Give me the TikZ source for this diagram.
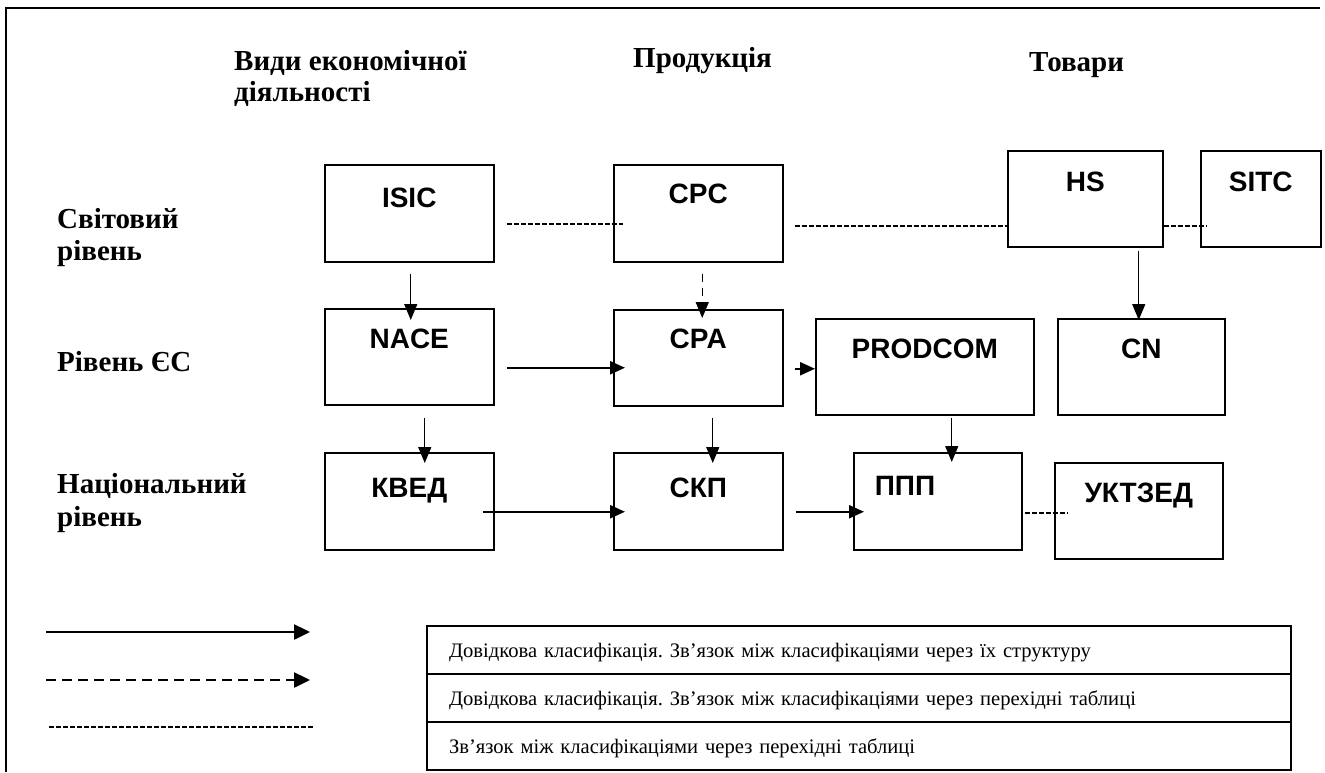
\documentclass[tikz,border=0pt]{standalone}
\usepackage{fontspec}
\setmainfont{Liberation Serif}
\newfontfamily\boxfont{Liberation Sans}
\usetikzlibrary{arrows.meta}
\frenchspacing
\begin{document}
\begin{tikzpicture}[x=1pt,y=-1pt,
  cbox/.style={draw, line width=1.5pt, rectangle, inner sep=0pt, anchor=north west,
    font=\boxfont\bfseries\fontsize{28}{28}\selectfont},
  hdr/.style={anchor=base west, inner sep=0pt, font=\bfseries\fontsize{29}{31}\selectfont},
  arr/.style={line width=1.4pt, -{Triangle[length=16pt,width=13pt]}},
  thickarr/.style={line width=2.4pt, -{Triangle[length=15pt,width=13pt]}},
  dasharr/.style={line width=1.4pt, dash pattern=on 8pt off 6pt, -{Triangle[length=16pt,width=13pt]}},
  thin dash/.style={line width=1.5pt, dash pattern=on 5pt off 2pt},
  legrow/.style={draw, line width=2pt, rectangle, anchor=north west, inner xsep=22pt, inner ysep=0pt,
    minimum width=864pt, minimum height=48pt, text width=820pt, align=left,
    text height=18pt, text depth=4pt, font=\fontsize{20.6}{22}\selectfont}
]
\useasboundingbox (0,0) rectangle (1325,772);
% frame
\draw[line width=2pt] (1320,8) -- (6,8) -- (6,772);

% headers
\node[hdr] (h1a) at (234,70) {Види економічної};
\node[hdr] (h1b) at (234,101) {діяльності};
\node[hdr] (h2) at (633,67) {Продукція};
\node[hdr] (h3) at (1029,71) {Товари};

% row labels
\node[hdr] (r1a) at (57,228) {Світовий};
\node[hdr] (r1b) at (57,260) {рівень};
\node[hdr] (r2) at (57,371) {Рівень ЄС};
\node[hdr] (r3a) at (57,493) {Національний};
\node[hdr] (r3b) at (57,526) {рівень};

% boxes
\node[cbox, minimum width=169pt, minimum height=97pt, text height=43pt, text depth=54pt] (isic) at (324,164) {ISIC};
\node[cbox, minimum width=169pt, minimum height=97pt, text height=39pt, text depth=58pt] (cpc) at (613,164) {CPC};
\node[cbox, minimum width=155pt, minimum height=96pt, text height=41pt, text depth=55pt] (hs) at (1007,150) {HS};
\node[cbox, minimum width=120pt, minimum height=96pt, text height=41pt, text depth=55pt] (sitc) at (1200,150) {SITC};
\node[cbox, minimum width=169pt, minimum height=96pt, text height=40pt, text depth=56pt] (nace) at (324,308) {NACE};
\node[cbox, minimum width=169pt, minimum height=96pt, text height=39pt, text depth=57pt] (cpa) at (613,309) {CPA};
\node[cbox, minimum width=218pt, minimum height=96pt, text height=40pt, text depth=56pt] (prodcom) at (815,318) {PRODCOM};
\node[cbox, minimum width=167pt, minimum height=96pt, text height=40pt, text depth=56pt] (cn) at (1057,318) {CN};
\node[cbox, minimum width=169pt, minimum height=97pt, text height=45pt, text depth=52pt] (kved) at (324,452) {КВЕД};
\node[cbox, minimum width=169pt, minimum height=97pt, text height=45pt, text depth=52pt] (skp) at (613,452) {СКП};
\node[cbox, minimum width=168pt, minimum height=97pt, text height=43pt, text depth=54pt,
      inner xsep=21pt, text width=126pt, align=left] (ppp) at (853,452) {ППП};
\node[cbox, minimum width=168pt, minimum height=96pt, text height=40pt, text depth=56pt] (ukt) at (1054,462) {УКТЗЕД};

% connectors
\draw[arr] ([xshift=1.5pt,yshift=-11pt]isic.south) -- ([xshift=1.5pt,yshift=-12pt]nace.north);
\draw[dasharr] ([xshift=4pt,yshift=-11pt]cpc.south) -- ([xshift=4pt,yshift=-9pt]cpa.north);
\draw[thin dash] ([xshift=12pt,yshift=-10.5pt]isic.east) -- ([xshift=10pt,yshift=-10.5pt]cpc.west);
\draw[thin dash] ([xshift=11pt,yshift=-12.5pt]cpc.east) -- ([xshift=2pt,yshift=-27pt]hs.west);
\draw[thin dash] ([yshift=-27pt]hs.east) -- ([xshift=7pt,yshift=-27pt]sitc.west);
\draw[arr] ([xshift=53.5pt,yshift=-3pt]hs.south) -- ([xshift=-2.5pt,yshift=-2pt]cn.north);
\draw[thickarr] ([xshift=12pt,yshift=-11pt]nace.east) -- ([xshift=12pt,yshift=-10pt]cpa.west);
\draw[thickarr] ([xshift=11pt,yshift=-11pt]cpa.east) -- ([yshift=-2pt]prodcom.west);
\draw[arr] ([xshift=15.5pt,yshift=-12pt]nace.south) -- ([xshift=15.5pt,yshift=-11pt]kved.north);
\draw[arr] ([xshift=14.5pt,yshift=-11pt]cpa.south) -- ([xshift=14.5pt,yshift=-11pt]skp.north);
\draw[arr] ([xshift=27pt,yshift=-2pt]prodcom.south) -- ([xshift=14pt,yshift=-10pt]ppp.north);
\draw[thickarr] ([xshift=-12pt,yshift=-10.5pt]kved.east) -- ([xshift=12pt,yshift=-10.5pt]skp.west);
\draw[thickarr] ([xshift=12pt,yshift=-10.5pt]skp.east) -- ([xshift=11pt,yshift=-10.5pt]ppp.west);
\draw[thin dash] ([xshift=2pt,yshift=-11.5pt]ppp.east) -- ([xshift=14pt,yshift=-2pt]ukt.west);

% legend
\coordinate (la1) at (46,632); \coordinate (lb1) at (310,632);
\coordinate (la2) at (46,680); \coordinate (lb2) at (310,680);
\coordinate (la3) at (49,727); \coordinate (lb3) at (313,727);
\draw[line width=2.5pt, -{Triangle[length=16pt,width=15pt]}] (la1) -- (lb1);
\draw[line width=2.5pt, dash pattern=on 10pt off 6pt, -{Triangle[length=16pt,width=15pt]}] (la2) -- (lb2);
\draw[thin dash] (la3) -- (lb3);

\node[legrow] (lg1) at (426,625) {Довідкова класифікація. Зв’язок між класифікаціями через їх структуру};
\node[legrow] (lg2) at (426,673) {Довідкова класифікація. Зв’язок між класифікаціями через перехідні таблиці};
\node[legrow] (lg3) at (426,721) {Зв’язок між класифікаціями через перехідні таблиці};
\end{tikzpicture}
\end{document}
